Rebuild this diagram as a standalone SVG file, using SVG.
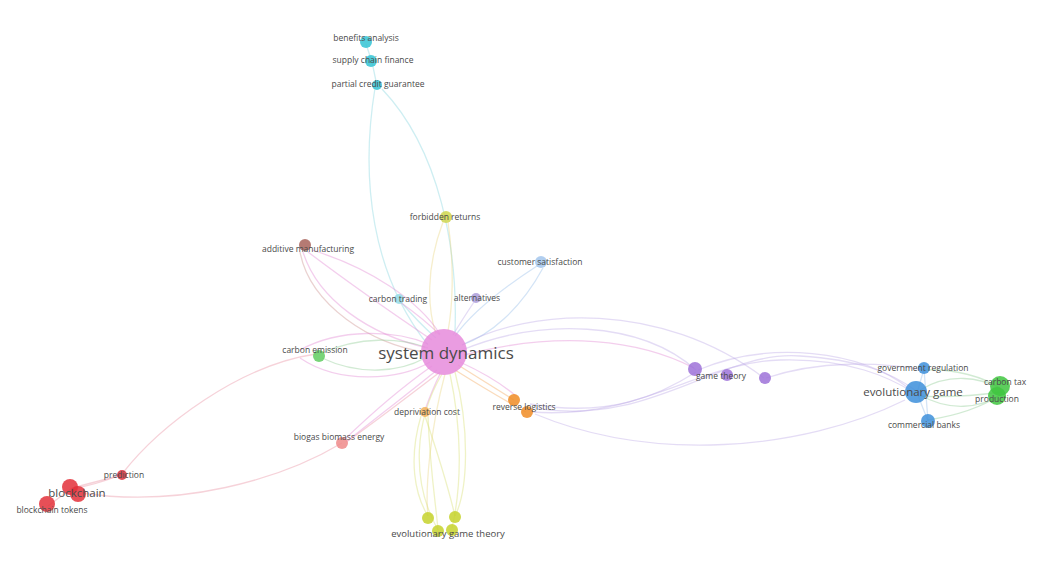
<svg xmlns="http://www.w3.org/2000/svg" width="1037" height="570" viewBox="0 0 1037 570">
<style>
.e{fill:none;stroke-width:1.3;stroke-opacity:0.38}
.pk{stroke:#e07fd0}.cy{stroke:#7fd3dc}.yl{stroke:#e8d27a}.pu{stroke:#b9a3e6}.gr{stroke:#86c98c}.rd{stroke:#e88a9a}.bl{stroke:#8fb9e8}.or{stroke:#f2a050}.yg{stroke:#d6dc6a}.br{stroke:#c88a86}
text{font-family:"Open Sans","Liberation Sans",sans-serif;fill:#4a4a4a;text-anchor:middle}
.s{font-size:8.5px}
.n{stroke:none;opacity:0.85}
</style>
<rect width="1037" height="570" fill="#ffffff"/>
<g id="connectors">
<path class="e cy" d="M366 44 L372 62 L377 86"/>
<path class="e cy" d="M375 88 C360 180 372 275 428 345"/>
<path class="e cy" d="M382 89 C440 150 458 250 455 332"/>
<path class="e yl" d="M443 222 C425 270 428 310 436 334"/>
<path class="e yl" d="M448 222 C455 270 452 310 448 331"/>
<path class="e pk" d="M312 250 C370 268 418 300 440 334"/>
<path class="e pk" d="M308 252 C345 280 395 315 432 340"/>
<path class="e pk" d="M303 252 C318 300 370 335 428 348"/>
<path class="e br" d="M300 252 C310 305 372 345 425 352"/>
<path class="e bl" d="M537 266 C500 290 470 315 455 336"/>
<path class="e bl" d="M543 268 C520 310 490 335 462 345"/>
<path class="e cy" d="M401 302 Q418 322 436 338"/>
<path class="e pu" d="M474 302 Q462 320 453 335"/>
<path class="e pk" d="M400 302 Q425 320 440 335"/>
<path class="e gr" d="M322 353 C360 336 400 338 425 347"/>
<path class="e gr" d="M322 358 C360 376 400 372 425 358"/>
<path class="e pk" d="M300 350 C340 328 395 330 428 344"/>
<path class="e pk" d="M300 358 C340 385 400 380 430 362"/>
<path class="e rd" d="M316 354 C240 365 160 425 122 474 C105 482 90 485 78 488"/>
<path class="e rd" d="M342 443 C280 480 180 508 82 493"/>
<path class="e rd" d="M122 475 L72 488"/>
<path class="e rd" d="M72 488 L48 506"/>
<path class="e pk" d="M344 440 C375 410 405 385 432 366"/>
<path class="e pk" d="M346 442 C380 415 410 392 437 370"/>
<path class="e rd" d="M348 441 C380 418 410 395 440 372"/>
<path class="e pk" d="M425 410 Q432 390 440 374"/>
<path class="e yg" d="M421 416 C408 460 415 495 428 516"/>
<path class="e yg" d="M425 416 C440 460 450 495 455 516"/>
<path class="e yg" d="M428 416 C430 470 436 505 438 530"/>
<path class="e yg" d="M442 374 C415 420 410 480 438 530"/>
<path class="e yg" d="M450 374 C462 430 462 485 452 528"/>
<path class="e yg" d="M455 372 C470 430 468 490 455 516"/>
<path class="e yl" d="M445 374 C430 430 425 490 428 516"/>
<path class="e or" d="M458 365 Q490 385 514 400"/>
<path class="e or" d="M455 370 Q495 395 526 412"/>
<path class="e pk" d="M460 362 Q495 378 516 396"/>
<path class="e pu" d="M462 345 C530 308 660 300 764 378"/>
<path class="e pu" d="M462 350 C540 318 640 320 696 370"/>
<path class="e pk" d="M464 355 C560 330 640 340 694 368"/>
<path class="e pu" d="M530 404 C610 418 660 395 696 372"/>
<path class="e pu" d="M535 408 C650 428 720 350 800 356 C860 360 890 372 915 390"/>
<path class="e pu" d="M532 412 C640 420 700 362 780 360 C850 358 890 378 913 392"/>
<path class="e pu" d="M535 414 C650 462 800 452 905 400"/>
<path class="e pu" d="M698 370 C770 340 860 350 910 389"/>
<path class="e pu" d="M766 378 C820 360 880 362 924 370"/>
<path class="e bl" d="M917 393 L924 369"/>
<path class="e bl" d="M917 393 L928 421"/>
<path class="e bl" d="M924 369 L928 421"/>
<path class="e gr" d="M920 390 C950 372 980 378 1000 388"/>
<path class="e gr" d="M920 395 C950 412 980 408 1000 395"/>
<path class="e gr" d="M924 370 C955 368 985 378 1000 388"/>
<path class="e gr" d="M928 420 C960 415 985 405 1000 395"/>
<path class="e gr" d="M918 396 C950 398 980 395 1002 392"/>
</g>
<g id="node-benefits-analysis"><circle class="n" cx="366" cy="42" r="6" fill="#33c3d3"/><text class="s" x="366" y="41">benefits analysis</text></g>
<g id="node-supply-chain-finance"><circle class="n" cx="371" cy="61" r="6" fill="#33c3d3"/><text class="s" x="373" y="63">supply chain finance</text></g>
<g id="node-partial-credit-guarantee"><circle class="n" cx="377" cy="85" r="5" fill="#33c3d3"/><text class="s" x="378" y="87">partial credit guarantee</text></g>
<g id="node-forbidden-returns"><circle class="n" cx="446" cy="217" r="6" fill="#cfd64c"/><text class="s" x="445" y="220">forbidden returns</text></g>
<g id="node-additive-manufacturing"><circle class="n" cx="305" cy="245" r="6" fill="#a8635b"/><text class="s" x="308" y="252">additive manufacturing</text></g>
<g id="node-customer-satisfaction"><circle class="n" cx="541" cy="262" r="6" fill="#a3c6ec"/><text class="s" x="540" y="265">customer satisfaction</text></g>
<g id="node-carbon-trading"><circle class="n" cx="399" cy="299" r="5" fill="#95dbe6"/><text class="s" x="398" y="302">carbon trading</text></g>
<g id="node-alternatives"><circle class="n" cx="476" cy="298" r="5" fill="#ab9cd9"/><text class="s" x="477" y="301">alternatives</text></g>
<g id="node-carbon-emission"><circle class="n" cx="319" cy="356" r="6" fill="#60cc60"/><text class="s" x="315" y="353">carbon emission</text></g>
<g id="node-system-dynamics"><circle class="n" cx="444" cy="352" r="23" fill="#e68bdc"/><text x="446" y="359" style="font-size:17px">system dynamics</text></g>
<g id="node-reverse-logistics"><circle class="n" cx="514" cy="400" r="6" fill="#f08c24"/><circle class="n" cx="527" cy="412" r="6" fill="#f08c24"/><text class="s" x="524" y="410">reverse logistics</text></g>
<g id="node-depriviation-cost"><circle class="n" cx="425" cy="412" r="5" fill="#f2b35c"/><text class="s" x="427" y="415">depriviation cost</text></g>
<g id="node-biogas-biomass-energy"><circle class="n" cx="342" cy="443" r="6" fill="#ee8a8a"/><text class="s" x="339" y="440">biogas biomass energy</text></g>
<g id="node-prediction"><circle class="n" cx="122" cy="475" r="5" fill="#d8303a"/><text class="s" x="124" y="478">prediction</text></g>
<g id="node-blockchain"><circle class="n" cx="70" cy="487" r="8" fill="#e3303a"/><circle class="n" cx="78" cy="494" r="8" fill="#e3303a"/><text x="77" y="497" style="font-size:11.5px">blockchain</text></g>
<g id="node-blockchain-tokens"><circle class="n" cx="47" cy="504" r="8" fill="#e3303a"/><text class="s" x="52" y="513">blockchain tokens</text></g>
<g id="node-evolutionary-game-theory"><circle class="n" cx="428" cy="518" r="6" fill="#c5d22c"/><circle class="n" cx="455" cy="517" r="6" fill="#c5d22c"/><circle class="n" cx="438" cy="531" r="6" fill="#c5d22c"/><circle class="n" cx="452" cy="530" r="6" fill="#c5d22c"/><text class="s" x="448" y="537" style="font-size:9.5px">evolutionary game theory</text></g>
<g id="node-game-theory"><circle class="n" cx="695" cy="369" r="7" fill="#9d72d8"/><circle class="n" cx="727" cy="375" r="6" fill="#9d72d8"/><circle class="n" cx="765" cy="378" r="6" fill="#9d72d8"/><text class="s" x="721" y="379">game theory</text></g>
<g id="node-government-regulation"><circle class="n" cx="924" cy="368" r="6" fill="#3d8fda"/><text class="s" x="923" y="371">government regulation</text></g>
<g id="node-evolutionary-game"><circle class="n" cx="916" cy="392" r="11" fill="#3d8fda"/><text x="913" y="396" style="font-size:11.5px">evolutionary game</text></g>
<g id="node-commercial-banks"><circle class="n" cx="928" cy="421" r="7" fill="#3d8fda"/><text class="s" x="924" y="428">commercial banks</text></g>
<g id="node-carbon-tax"><circle class="n" cx="1000" cy="386" r="10" fill="#40c640"/><text class="s" x="1005" y="385">carbon tax</text></g>
<g id="node-production"><circle class="n" cx="997" cy="396" r="9" fill="#40c640"/><text class="s" x="997" y="402">production</text></g>
</svg>
